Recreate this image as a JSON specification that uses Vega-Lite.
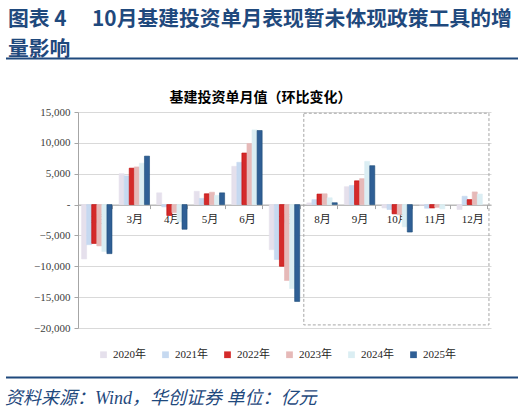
{
  "$schema": "https://vega.github.io/schema/vega-lite/v6.json",
  "background": "white",
  "padding": {"left": 5, "right": 5, "top": 8, "bottom": 0},
  "spacing": 16,
  "align": "none",
  "config": {
    "view": {"stroke": null},
    "font": "Noto Sans CJK SC",
    "axisX": {
      "title": null,
      "offset": -123.4,
      "zindex": 1,
      "domainColor": "#a6a6a6",
      "tickColor": "#a6a6a6",
      "tickBand": "extent",
      "tickSize": 4,
      "labelAngle": 0,
      "labelFont": "Liberation Serif, Noto Sans CJK SC",
      "labelFontSize": 11,
      "labelColor": "#262626",
      "labelPadding": 5,
      "grid": false
    },
    "axisY": {
      "title": null,
      "domainColor": "#a6a6a6",
      "tickColor": "#a6a6a6",
      "tickSize": 4,
      "gridColor": "#d9d9d9",
      "labelFont": "Liberation Serif",
      "labelFontSize": 11,
      "labelColor": "#404040",
      "labelPadding": 4,
      "labelOverlap": false,
      "minExtent": 72
    }
  },
  "datasets": {
    "bars": [
      {"month": "2月", "year": "2020年", "value": -8800},
      {"month": "2月", "year": "2021年", "value": -6500},
      {"month": "2月", "year": "2022年", "value": -6300},
      {"month": "2月", "year": "2023年", "value": -6700},
      {"month": "2月", "year": "2024年", "value": -7600},
      {"month": "2月", "year": "2025年", "value": -7950},
      {"month": "3月", "year": "2020年", "value": 5000},
      {"month": "3月", "year": "2021年", "value": 4650},
      {"month": "3月", "year": "2022年", "value": 5900},
      {"month": "3月", "year": "2023年", "value": 6100},
      {"month": "3月", "year": "2024年", "value": 6700},
      {"month": "3月", "year": "2025年", "value": 7850},
      {"month": "4月", "year": "2020年", "value": 1900},
      {"month": "4月", "year": "2021年", "value": -370},
      {"month": "4月", "year": "2022年", "value": -1770},
      {"month": "4月", "year": "2023年", "value": -1300},
      {"month": "4月", "year": "2024年", "value": -2800},
      {"month": "4月", "year": "2025年", "value": -4000},
      {"month": "5月", "year": "2020年", "value": 2150},
      {"month": "5月", "year": "2021年", "value": 1000},
      {"month": "5月", "year": "2022年", "value": 1750},
      {"month": "5月", "year": "2023年", "value": 2000},
      {"month": "5月", "year": "2024年", "value": 1500},
      {"month": "5月", "year": "2025年", "value": 1900},
      {"month": "6月", "year": "2020年", "value": 6200},
      {"month": "6月", "year": "2021年", "value": 6850},
      {"month": "6月", "year": "2022年", "value": 8350},
      {"month": "6月", "year": "2023年", "value": 9900},
      {"month": "6月", "year": "2024年", "value": 12100},
      {"month": "6月", "year": "2025年", "value": 12000},
      {"month": "7月", "year": "2020年", "value": -7300},
      {"month": "7月", "year": "2021年", "value": -8900},
      {"month": "7月", "year": "2022年", "value": -10000},
      {"month": "7月", "year": "2023年", "value": -12300},
      {"month": "7月", "year": "2024年", "value": -13600},
      {"month": "7月", "year": "2025年", "value": -15700},
      {"month": "8月", "year": "2020年", "value": 270},
      {"month": "8月", "year": "2021年", "value": 800},
      {"month": "8月", "year": "2022年", "value": 1700},
      {"month": "8月", "year": "2023年", "value": 1750},
      {"month": "8月", "year": "2024年", "value": 1100},
      {"month": "8月", "year": "2025年", "value": 300},
      {"month": "9月", "year": "2020年", "value": 2900},
      {"month": "9月", "year": "2021年", "value": 3100},
      {"month": "9月", "year": "2022年", "value": 3850},
      {"month": "9月", "year": "2023年", "value": 4200},
      {"month": "9月", "year": "2024年", "value": 7000},
      {"month": "9月", "year": "2025年", "value": 6300},
      {"month": "10月", "year": "2020年", "value": -550},
      {"month": "10月", "year": "2021年", "value": -800},
      {"month": "10月", "year": "2022年", "value": -1500},
      {"month": "10月", "year": "2023年", "value": -1650},
      {"month": "10月", "year": "2024年", "value": -3600},
      {"month": "10月", "year": "2025年", "value": -4450},
      {"month": "11月", "year": "2020年", "value": -100},
      {"month": "11月", "year": "2021年", "value": -600},
      {"month": "11月", "year": "2022年", "value": -550},
      {"month": "11月", "year": "2023年", "value": -450},
      {"month": "11月", "year": "2024年", "value": -700},
      {"month": "12月", "year": "2020年", "value": -800},
      {"month": "12月", "year": "2021年", "value": 1350},
      {"month": "12月", "year": "2022年", "value": 800},
      {"month": "12月", "year": "2023年", "value": 2050},
      {"month": "12月", "year": "2024年", "value": 1700}
    ],
    "box": [
      {"month": "8月", "month_end": "12月", "value": 14800, "value_end": -19500}
    ],
    "line": [
      {"name": "rule"}
    ]
  },
  "resolve": {"legend": {"color": "independent", "stroke": "independent"}},
  "vconcat": [
    {
      "spacing": 31,
      "align": "none",
      "resolve": {"legend": {"color": "independent", "stroke": "independent"}},
      "vconcat": [
        {
          "width": 440,
          "height": 1,
          "title": {
            "text": ["图表 4　 10月基建投资单月表现暂未体现政策工具的增", "量影响"],
            "anchor": "start",
            "frame": "bounds",
            "font": "Noto Sans CJK SC",
            "fontSize": 20.8,
            "fontWeight": "bold",
            "color": "#1f497d",
            "lineHeight": 30,
            "offset": -3,
            "dx": 3
          },
          "data": {"name": "line"},
          "mark": {"type": "rule", "color": "#1f497d", "strokeWidth": 2},
          "encoding": {
            "x": {"datum": 0, "type": "quantitative", "scale": {"domain": [0, 1], "range": [-72, 440], "nice": false, "zero": false}, "axis": null},
            "x2": {"datum": 1}
          }
        },
        {
          "width": 413,
          "height": 216,
          "title": {
            "text": "基建投资单月值（环比变化）",
            "font": "Noto Sans CJK SC",
            "fontSize": 14,
            "fontWeight": "bold",
            "color": "#000000",
            "anchor": "middle",
            "frame": "group",
            "dx": -24,
            "offset": 1
          },
          "layer": [
            {
              "data": {"name": "bars"},
              "mark": {"type": "bar"},
              "encoding": {
                "x": {
                  "field": "month",
                  "type": "nominal",
                  "title": null,
                  "scale": {
                    "domain": ["2月", "3月", "4月", "5月", "6月", "7月", "8月", "9月", "10月", "11月", "12月"],
                    "paddingInner": 0.19,
                    "paddingOuter": 0.095
                  }
                },
                "xOffset": {
                  "field": "year",
                  "type": "nominal",
                  "scale": {"paddingInner": 0, "paddingOuter": 0}
                },
                "y": {
                  "field": "value",
                  "type": "quantitative",
                  "title": null,
                  "scale": {"domain": [-20000, 15000], "nice": false},
                  "axis": {
                    "values": [-20000, -15000, -10000, -5000, 0, 5000, 10000, 15000],
                    "labelExpr": "datum.value == 0 ? '-' : format(datum.value, ',')"
                  }
                },
                "color": {
                  "field": "year",
                  "type": "nominal",
                  "scale": {
                    "domain": ["2020年", "2021年", "2022年", "2023年", "2024年", "2025年"],
                    "range": ["#e5e0ec", "#c6d9f0", "#d42a2a", "#e6b9b8", "#dbeef3", "#2f5f95"]
                  },
                  "legend": {
                    "orient": "none",
                    "legendX": 20,
                    "legendY": 237,
                    "direction": "horizontal",
                    "title": null,
                    "symbolType": "square",
                    "symbolSize": 45,
                    "symbolStrokeWidth": 0,
                    "labelFont": "Liberation Serif, Noto Sans CJK SC",
                    "labelFontSize": 11,
                    "labelColor": "#262626",
                    "columnPadding": 14
                  }
                },
                "stroke": {
                  "field": "year",
                  "type": "nominal",
                  "scale": {
                    "domain": ["2020年", "2021年", "2022年", "2023年", "2024年", "2025年"],
                    "range": ["#e5e0ec", "#c6d9f0", "#c00000", "#e6b9b8", "#dbeef3", "#1f4e79"]
                  },
                  "legend": null
                },
                "strokeWidth": {"value": 0.6}
              }
            },
            {
              "data": {"name": "box"},
              "mark": {"type": "rect", "fill": null, "stroke": "#a6a6a6", "strokeDash": [3, 2], "strokeWidth": 1},
              "encoding": {
                "x": {"field": "month", "type": "nominal", "title": null, "bandPosition": -0.1},
                "x2": {"field": "month_end", "bandPosition": 1.05},
                "y": {
                  "field": "value",
                  "type": "quantitative",
                  "title": null,
                  "axis": {
                    "values": [-20000, -15000, -10000, -5000, 0, 5000, 10000, 15000],
                    "labelExpr": "datum.value == 0 ? '-' : format(datum.value, ',')"
                  }
                },
                "y2": {"field": "value_end"}
              }
            }
          ]
        }
      ]
    },
    {
      "width": 440,
      "height": 1,
      "title": {
        "text": "资料来源：Wind，华创证券 单位：亿元",
        "orient": "bottom",
        "anchor": "start",
        "frame": "bounds",
        "font": "Liberation Serif, Noto Sans CJK SC",
        "fontSize": 18,
        "fontStyle": "italic",
        "fontWeight": "normal",
        "color": "#1f497d",
        "offset": 11
      },
      "data": {"name": "line"},
      "mark": {"type": "rule", "color": "#1f497d", "strokeWidth": 2},
      "encoding": {
        "x": {"datum": 0, "type": "quantitative", "scale": {"domain": [0, 1], "range": [-72, 440], "nice": false, "zero": false}, "axis": null},
        "x2": {"datum": 1}
      }
    }
  ]
}
